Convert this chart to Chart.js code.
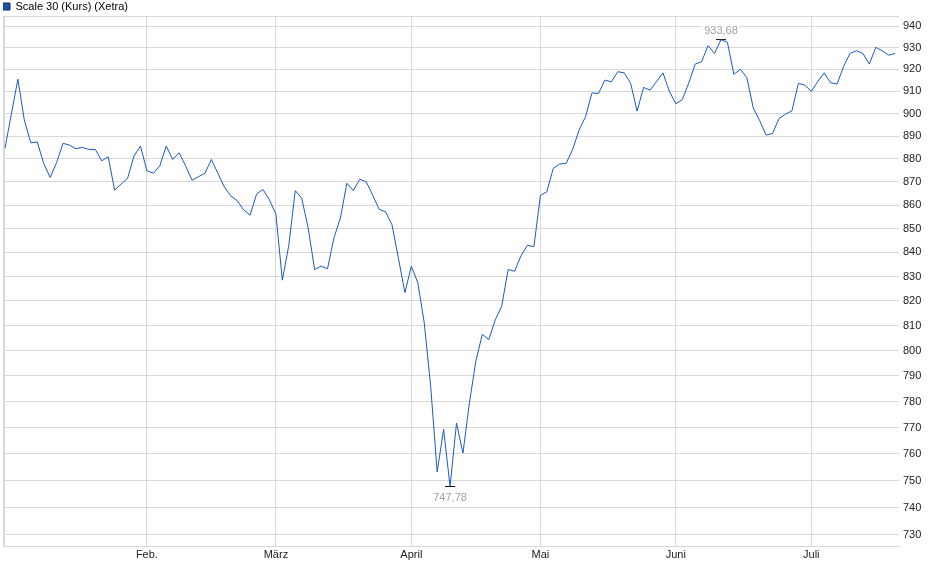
<!DOCTYPE html>
<html>
<head>
<meta charset="utf-8">
<title>Scale 30 (Kurs) (Xetra)</title>
<script src="https://cdn.jsdelivr.net/npm/chart.js@4.4.1/dist/chart.umd.min.js"></script>
<style>
  html, body { margin: 0; padding: 0; background: #fff; }
  #wrap { width: 940px; height: 579px; }
</style>
</head>
<body>
<div id="wrap"><canvas id="chart" width="940" height="579"></canvas></div>
<script>
// Scale 30 daily closes, Xetra trading days from 2 Jan to 18 Jul
const closes = [
  884.6, 900.0, 915.5, 897.0, 887.0, 887.4, 878.0, 871.9, 878.3, 886.8,
  886.0, 884.4, 885.0, 884.1, 884.1, 879.1, 880.9, 866.4, 869.0, 871.5,
  881.2, 885.6, 874.8, 873.7, 876.9, 885.6, 879.7, 882.6, 876.9, 870.7,
  872.2, 873.7, 879.7, 873.7, 867.8, 863.9, 861.9, 857.9, 855.7, 864.7,
  866.7, 862.2, 856.1, 828.5, 843.0, 866.2, 862.9, 850.3, 832.9, 834.3,
  833.2, 846.1, 854.5, 869.4, 866.2, 871.1, 870.0, 864.3, 858.2, 857.1,
  851.6, 837.5, 823.4, 834.3, 827.4, 811.1, 785.8, 753.2, 769.3, 747.78,
  771.7, 760.3, 779.5, 795.9, 806.5, 804.4, 812.3, 817.8, 832.9, 832.2,
  838.6, 843.0, 842.4, 864.1, 865.7, 875.8, 877.7, 878.0, 884.1, 892.6,
  898.6, 909.3, 909.0, 915.1, 914.3, 918.9, 918.4, 913.6, 901.1, 911.8,
  910.5, 914.4, 918.4, 910.0, 904.4, 906.3, 913.7, 922.4, 923.5, 930.9,
  927.3, 933.68, 932.4, 917.7, 920.0, 916.3, 902.6, 896.8, 890.4, 891.2,
  897.8, 899.7, 901.2, 913.6, 912.8, 910.0, 914.4, 918.4, 913.9, 913.3,
  921.2, 927.3, 928.5, 927.3, 922.4, 930.1, 928.5, 926.5, 927.3
];

// first trading day of each month (index into closes) and its label
const monthStarts = [0, 22, 42, 63, 83, 104, 125];
const monthLabels = ['', 'Feb.', 'März', 'April', 'Mai', 'Juni', 'Juli'];

// y axis grid values
const yTicks = [730, 740, 750, 760, 770, 780, 790, 800, 810, 820, 830,
                840, 850, 860, 870, 880, 890, 900, 910, 920, 930, 940];

const X_MIN = -0.31, X_MAX = 138.6;
const Y_MIN = 726, Y_MAX = 944.7;

const lineColor = '#1c58c2';
const gridColor = '#d9d9d9';
const textColor = '#222222';
const fontFamily = '"Liberation Sans", Arial, sans-serif';

const points = closes.map((v, i) => ({ x: i, y: v }));

// highest and lowest close get a marker and a value label
const hiIdx = closes.indexOf(Math.max(...closes));
const loIdx = closes.indexOf(Math.min(...closes));
const extremes = [
  { x: hiIdx, y: closes[hiIdx], above: true },
  { x: loIdx, y: closes[loIdx], above: false }
];

function fmt(v) {
  return v.toFixed(2).replace('.', ',');
}

const extremeLabels = {
  id: 'extremeLabels',
  afterDatasetsDraw(chart) {
    const ctx = chart.ctx;
    const xs = chart.scales.x, ys = chart.scales.y;
    ctx.save();
    ctx.font = '11px ' + fontFamily;
    ctx.textAlign = 'center';
    ctx.textBaseline = 'middle';
    extremes.forEach(p => {
      const px = xs.getPixelForValue(p.x);
      const py = ys.getPixelForValue(p.y);
      const text = fmt(p.y);
      const ty = p.above ? py - 9 : py + 11;
      const w = ctx.measureText(text).width;
      if (p.above) {
        ctx.fillStyle = '#ffffff';
        ctx.fillRect(px - w / 2 - 2, ty - 6, w + 4, 12);
      }
      ctx.fillStyle = '#a0a0a0';
      ctx.fillText(text, px, ty);
    });
    ctx.restore();
  }
};

const ctx = document.getElementById('chart').getContext('2d');
const chart = new Chart(ctx, {
  type: 'line',
  data: {
    datasets: [
      {
        label: 'Scale 30 (Kurs) (Xetra)',
        data: points,
        borderColor: lineColor,
        backgroundColor: lineColor,
        borderWidth: 1,
        pointRadius: 0,
        tension: 0,
        fill: false
      },
      {
        label: 'extremes',
        data: extremes,
        showLine: false,
        pointStyle: 'line',
        pointRadius: 5,
        pointBorderWidth: 1,
        pointBorderColor: '#000000',
        borderColor: '#000000'
      }
    ]
  },
  options: {
    responsive: false,
    animation: false,
    events: [],
    layout: { autoPadding: false, padding: { left: 3, top: 1, right: 0, bottom: 0 } },
    scales: {
      x: {
        type: 'linear',
        min: X_MIN,
        max: X_MAX,
        afterBuildTicks: scale => {
          scale.ticks = [X_MIN].concat(monthStarts).map(v => ({ value: v }));
        },
        afterFit: scale => {
          scale.height = 33;
          scale.paddingLeft = 0;
          scale.paddingRight = 0;
        },
        grid: { color: gridColor, tickLength: 0, drawTicks: false },
        border: { display: true, color: gridColor },
        ticks: {
          autoSkip: false,
          maxRotation: 0,
          padding: 2,
          color: textColor,
          font: { family: fontFamily, size: 11 },
          callback: value => {
            const k = monthStarts.indexOf(value);
            return k >= 0 ? monthLabels[k] : '';
          }
        }
      },
      y: {
        type: 'logarithmic',
        position: 'right',
        min: Y_MIN,
        max: Y_MAX,
        afterBuildTicks: scale => {
          scale.ticks = [Y_MIN].concat(yTicks, [Y_MAX]).map(v => ({ value: v }));
        },
        afterFit: scale => {
          scale.width = 41;
          scale.paddingTop = 0;
          scale.paddingBottom = 0;
        },
        grid: { color: gridColor, tickLength: 0, drawTicks: false },
        border: { display: false },
        ticks: {
          autoSkip: false,
          padding: 4,
          color: textColor,
          font: { family: fontFamily, size: 11 },
          callback: value => (yTicks.includes(value) ? String(value) : '')
        }
      }
    },
    plugins: {
      legend: {
        display: true,
        position: 'top',
        align: 'start',
        maxHeight: 15,
        labels: {
          boxWidth: 7,
          boxHeight: 7,
          padding: 0,
          color: textColor,
          font: { family: fontFamily, size: 11 },
          generateLabels: () => [{
            text: 'Scale 30 (Kurs) (Xetra)',
            fillStyle: '#1c53b0',
            strokeStyle: '#0d2a66',
            lineWidth: 1,
            datasetIndex: 0
          }]
        }
      },
      tooltip: { enabled: false }
    }
  },
  plugins: [extremeLabels]
});
</script>
</body>
</html>
